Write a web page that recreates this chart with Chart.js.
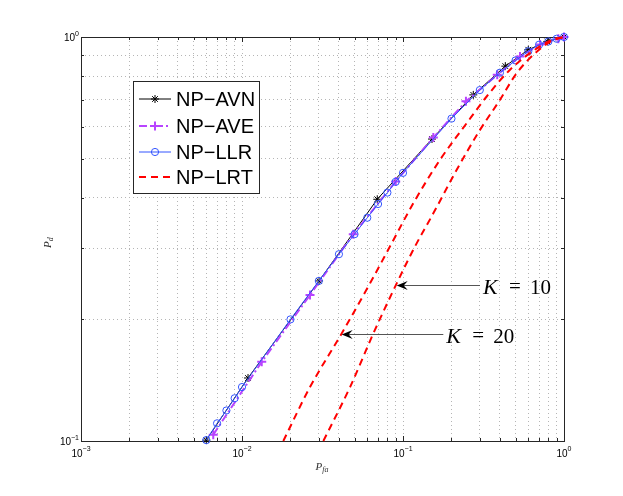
<!DOCTYPE html>
<html>
<head>
<meta charset="utf-8">
<script src="https://cdn.jsdelivr.net/npm/chart.js@4.4.1/dist/chart.umd.min.js"></script>
<style>
  html, body { margin: 0; padding: 0; background: #fff; }
  #wrap { width: 623px; height: 496px; position: relative; }
</style>
</head>
<body>
<div id="wrap"><canvas id="rocChart"></canvas></div>
<script>
// ROC values (P_fa, P_d)
var pfaAVN = [0.006, 0.0109, 0.0301, 0.0692, 0.1514, 0.2733, 0.432, 0.600, 0.788, 1.0];
var pdAVN  = [0.1005, 0.1432, 0.249, 0.3966, 0.559, 0.719, 0.847, 0.930, 0.975, 1.0];

var pfaAVE = [0.00663, 0.01326, 0.02645, 0.0491, 0.0901, 0.1543, 0.246, 0.385, 0.533, 0.71, 0.922, 1.0];
var pdAVE  = [0.1037, 0.157, 0.2298, 0.3249, 0.4386, 0.5638, 0.693, 0.806, 0.895, 0.958, 0.99, 1.0];

var pfaLLR = [0.006, 0.007, 0.008, 0.009, 0.01, 0.02, 0.03, 0.04, 0.05, 0.06, 0.07, 0.08, 0.09,
              0.1, 0.2, 0.3, 0.4, 0.5, 0.6, 0.7, 0.8, 0.9, 1.0];
var pdLLR  = [0.1005, 0.1106, 0.119, 0.1276, 0.136, 0.200, 0.249, 0.290, 0.325, 0.357, 0.386, 0.412, 0.438,
              0.461, 0.628, 0.739, 0.816, 0.875, 0.922, 0.957, 0.975, 0.99, 1.0];

var pfaLRT20 = [0.01805, 0.02645, 0.0416, 0.0624, 0.0846, 0.1159, 0.1697, 0.2487, 0.331, 0.462, 0.70, 0.85, 1.0];
var pdLRT20  = [0.1, 0.136, 0.1845, 0.2456, 0.3074, 0.3877, 0.4964, 0.612, 0.7124, 0.830, 0.945, 0.985, 1.0];

var pfaLRT10 = [0.0320, 0.0469, 0.0654, 0.0914, 0.1187, 0.1543, 0.2156, 0.3008, 0.4003, 0.5084, 0.70, 0.85, 1.0];
var pdLRT10  = [0.1, 0.136, 0.1845, 0.2456, 0.303, 0.366, 0.469, 0.589, 0.699, 0.814, 0.93, 0.98, 1.0];

// decade tick labels
var xTickValues = [0.001, 0.01, 0.1, 1];
var xTickExps   = ['\u22123', '\u22122', '\u22121', '0'];
var yTickValues = [0.1, 1];
var yTickExps   = ['\u22121', '0'];

// K annotations: arrow tail/tip in data units
var notes = [
  { k: '10', tail: [0.3008, 0.2432], tip: [0.0914, 0.2432] },
  { k: '20', tail: [0.178, 0.1845], tip: [0.0416, 0.1845] }
];

function pts(xs, ys) {
  return xs.map(function (x, i) { return { x: x, y: ys[i] }; });
}

function logTicks(min, max) {
  var out = [];
  for (var d = min; d < max * 1.0001; d *= 10) {
    for (var k = 1; k <= 9; k++) {
      var v = +(d * k).toPrecision(6);
      if (v <= max * 1.0001) out.push({ value: v });
    }
  }
  return out;
}

function isDecade(v) {
  var l = Math.log10(v);
  return Math.abs(l - Math.round(l)) < 1e-6;
}

var decor = {
  id: 'decor',
  beforeDatasetsDraw: function (chart) {
    var ctx = chart.ctx, a = chart.chartArea, sx = chart.scales.x, sy = chart.scales.y;
    ctx.save();
    ctx.strokeStyle = '#262626';
    ctx.lineWidth = 1;
    ctx.setLineDash([]);
    ctx.beginPath();
    sx.ticks.forEach(function (t) {
      var px = Math.round(sx.getPixelForValue(t.value)) + 0.5;
      var len = isDecade(t.value) ? 5 : 3;
      ctx.moveTo(px, a.bottom); ctx.lineTo(px, a.bottom - len);
      ctx.moveTo(px, a.top); ctx.lineTo(px, a.top + len);
    });
    sy.ticks.forEach(function (t) {
      var py = Math.round(sy.getPixelForValue(t.value)) + 0.5;
      var len = isDecade(t.value) ? 5 : 3;
      ctx.moveTo(a.left, py); ctx.lineTo(a.left + len, py);
      ctx.moveTo(a.right, py); ctx.lineTo(a.right - len, py);
    });
    ctx.stroke();
    ctx.strokeRect(Math.round(a.left) + 0.5, Math.round(a.top) + 0.5,
                   Math.round(a.right - a.left), Math.round(a.bottom - a.top));
    ctx.restore();
  },
  afterDraw: function (chart) {
    var ctx = chart.ctx, a = chart.chartArea, sx = chart.scales.x, sy = chart.scales.y;
    ctx.save();
    ctx.fillStyle = '#000';
    ctx.textBaseline = 'alphabetic';

    // tick labels
    xTickValues.forEach(function (v, i) {
      var px = sx.getPixelForValue(v);
      ctx.font = '10px "Liberation Sans", Arial, sans-serif';
      var w1 = ctx.measureText('10').width;
      ctx.font = '7px "Liberation Sans", Arial, sans-serif';
      var w2 = ctx.measureText(xTickExps[i]).width;
      var x0 = px - (w1 + w2) / 2;
      ctx.font = '10px "Liberation Sans", Arial, sans-serif';
      ctx.textAlign = 'left';
      ctx.fillText('10', x0, a.bottom + 16);
      ctx.font = '7px "Liberation Sans", Arial, sans-serif';
      ctx.fillText(xTickExps[i], x0 + w1, a.bottom + 10);
    });
    yTickValues.forEach(function (v, i) {
      var py = sy.getPixelForValue(v);
      ctx.font = '10px "Liberation Sans", Arial, sans-serif';
      var w1 = ctx.measureText('10').width;
      ctx.font = '7px "Liberation Sans", Arial, sans-serif';
      var w2 = ctx.measureText(yTickExps[i]).width;
      var xr = a.left - 2;
      ctx.textAlign = 'left';
      ctx.font = '10px "Liberation Sans", Arial, sans-serif';
      ctx.fillText('10', xr - w2 - w1, py + 4);
      ctx.font = '7px "Liberation Sans", Arial, sans-serif';
      ctx.fillText(yTickExps[i], xr - w2, py - 1);
    });

    // axis titles
    ctx.fillStyle = '#333';
    ctx.font = 'italic 11px "Liberation Serif", serif';
    var pw = ctx.measureText('P').width;
    var cx = (a.left + a.right) / 2;
    ctx.textAlign = 'left';
    ctx.fillText('P', cx - 7, a.bottom + 29);
    ctx.font = 'italic 8px "Liberation Serif", serif';
    ctx.fillText('fa', cx - 7 + pw, a.bottom + 31);

    ctx.save();
    ctx.translate(51, (a.top + a.bottom) / 2 + 4);
    ctx.rotate(-Math.PI / 2);
    ctx.font = 'italic 11px "Liberation Serif", serif';
    ctx.fillText('P', -5, 0);
    ctx.font = 'italic 8px "Liberation Serif", serif';
    ctx.fillText('d', -5 + pw, 2);
    ctx.restore();

    // K annotations with arrows
    notes.forEach(function (n) {
      var tx = sx.getPixelForValue(n.tail[0]), ty = Math.round(sy.getPixelForValue(n.tail[1])) + 0.5;
      var hx = sx.getPixelForValue(n.tip[0]);
      ctx.strokeStyle = '#555';
      ctx.lineWidth = 1;
      ctx.setLineDash([]);
      ctx.beginPath();
      ctx.moveTo(tx, ty); ctx.lineTo(hx + 6, ty);
      ctx.stroke();
      ctx.fillStyle = '#000';
      ctx.beginPath();
      ctx.moveTo(hx, ty);
      ctx.lineTo(hx + 11, ty - 4.5);
      ctx.lineTo(hx + 7, ty);
      ctx.lineTo(hx + 11, ty + 4.5);
      ctx.closePath();
      ctx.fill();
      var x0 = tx + 3;
      ctx.textAlign = 'left';
      ctx.font = 'italic 22px "Liberation Serif", serif';
      ctx.fillText('K', x0, ty + 8);
      ctx.font = '21px "Liberation Serif", serif';
      ctx.fillText('=', x0 + 26, ty + 7);
      ctx.fillText(n.k, x0 + 47, ty + 8);
    });

    // legend
    var lx = 133.5, ly = 81.5, lw = 126, lh = 112;
    ctx.fillStyle = '#fff';
    ctx.fillRect(lx, ly, lw, lh);
    ctx.strokeStyle = '#262626';
    ctx.lineWidth = 1;
    ctx.strokeRect(lx, ly, lw, lh);
    var rows = [99, 126, 152, 177];
    var items = chart.data.datasets.filter(function (d) { return d.inLegend !== false; });
    items.forEach(function (ds, i) {
      var y = rows[i];
      ctx.save();
      ctx.strokeStyle = ds.borderColor;
      ctx.lineWidth = ds.borderWidth;
      ctx.setLineDash(ds.borderDash || []);
      ctx.beginPath();
      ctx.moveTo(139, y); ctx.lineTo(171, y);
      ctx.stroke();
      ctx.setLineDash([]);
      if (ds.pointRadius > 0) {
        ctx.strokeStyle = ds.pointBorderColor || ds.borderColor;
        ctx.fillStyle = 'rgba(0,0,0,0)';
        ctx.lineWidth = ds.pointBorderWidth;
        Chart.helpers.drawPoint(ctx, { pointStyle: ds.pointStyle, radius: ds.pointRadius,
          borderWidth: ds.pointBorderWidth, rotation: 0 }, 155, y);
      }
      ctx.restore();
      ctx.fillStyle = '#000';
      ctx.font = '20px "Liberation Sans", Arial, sans-serif';
      ctx.textAlign = 'left';
      ctx.fillText(ds.label, 176, y + 7);
    });
    ctx.restore();
  }
};

var lineBase = { showLine: true, tension: 0, clip: false, fill: false, pointHoverRadius: 0 };

function series(extra) {
  return Object.assign({}, lineBase, extra);
}

var datasets = [
  series({ label: 'NP\u2212AVN', data: pts(pfaAVN, pdAVN), borderColor: '#000', borderWidth: 1,
           pointStyle: 'star', pointRadius: 4, pointBorderWidth: 1, pointBackgroundColor: 'rgba(0,0,0,0)',
           order: 4 }),
  series({ label: 'NP\u2212AVE', data: pts(pfaAVE, pdAVE), borderColor: '#b844ff', borderWidth: 2,
           borderDash: [8, 3, 2, 3], pointStyle: 'cross', pointRadius: 4.5, pointBorderWidth: 2,
           pointBackgroundColor: 'rgba(0,0,0,0)', order: 3 }),
  series({ label: 'NP\u2212LLR', data: pts(pfaLLR, pdLLR), borderColor: '#3355ff', borderWidth: 1,
           pointStyle: 'circle', pointRadius: 3.6, pointBorderWidth: 1,
           pointBackgroundColor: 'rgba(0,0,0,0)', order: 2 }),
  series({ label: 'NP\u2212LRT', data: pts(pfaLRT10, pdLRT10), borderColor: '#ff0000', borderWidth: 2,
           borderDash: [7, 5], pointRadius: 0, pointBorderWidth: 0, order: 1,
           cubicInterpolationMode: 'monotone' }),
  series({ label: 'NP\u2212LRT', data: pts(pfaLRT20, pdLRT20), borderColor: '#ff0000', borderWidth: 2,
           borderDash: [7, 5], pointRadius: 0, pointBorderWidth: 0, order: 1, inLegend: false,
           cubicInterpolationMode: 'monotone' })
];

var gridOpts = { color: '#b5b5b5', lineWidth: 1, drawTicks: false };
var borderOpts = { display: false, dash: [1, 3] };

var ctxR = document.getElementById('rocChart').getContext('2d');
new Chart(ctxR, {
  type: 'line',
  data: { datasets: datasets },
  options: {
    responsive: true,
    maintainAspectRatio: false,
    animation: false,
    parsing: true,
    layout: { padding: { left: 81, top: 37, right: 59, bottom: 55 } },
    plugins: { legend: { display: false }, tooltip: { enabled: false } },
    events: [],
    scales: {
      x: {
        type: 'logarithmic', min: 0.001, max: 1,
        afterBuildTicks: function (s) { s.ticks = logTicks(0.001, 1); },
        ticks: { display: false },
        grid: gridOpts, border: borderOpts
      },
      y: {
        type: 'logarithmic', min: 0.1, max: 1,
        afterBuildTicks: function (s) { s.ticks = logTicks(0.1, 1); },
        ticks: { display: false },
        grid: gridOpts, border: borderOpts
      }
    }
  },
  plugins: [decor]
});
</script>
</body>
</html>
